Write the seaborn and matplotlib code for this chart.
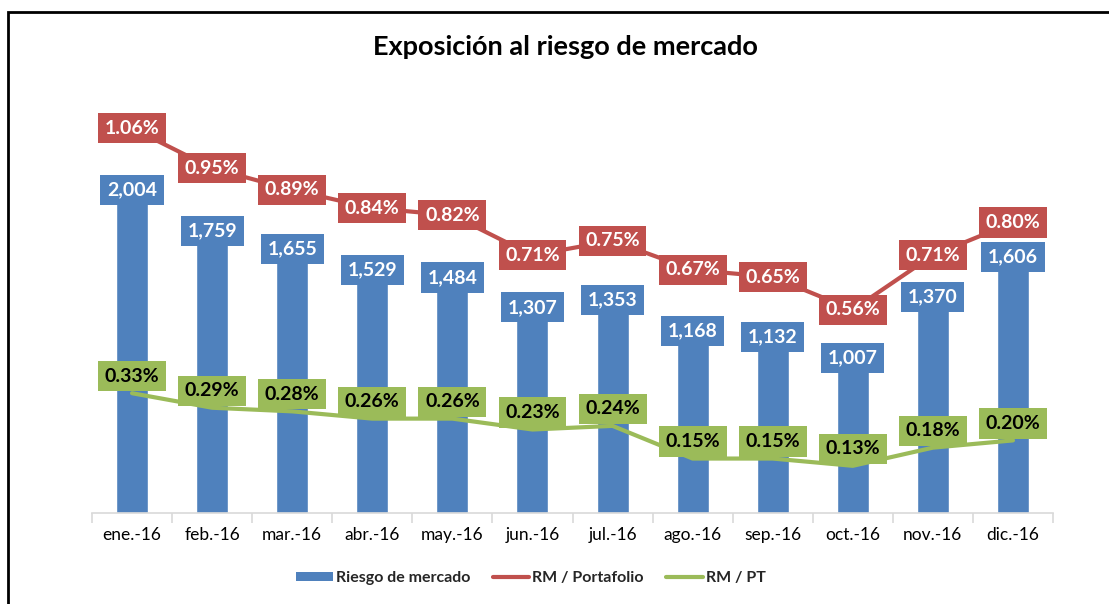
import matplotlib
matplotlib.use("Agg")
import matplotlib.pyplot as plt
import seaborn as sns
import pandas as pd
import numpy as np
from matplotlib.patches import Patch, Rectangle
from matplotlib.lines import Line2D

months = ["ene.-16", "feb.-16", "mar.-16", "abr.-16", "may.-16", "jun.-16",
          "jul.-16", "ago.-16", "sep.-16", "oct.-16", "nov.-16", "dic.-16"]
riesgo = [2004, 1759, 1655, 1529, 1484, 1307, 1353, 1168, 1132, 1007, 1370, 1606]
rm_portafolio = [1.06, 0.95, 0.89, 0.84, 0.82, 0.71, 0.75, 0.67, 0.65, 0.56, 0.71, 0.80]
rm_pt = [0.33, 0.29, 0.28, 0.26, 0.26, 0.23, 0.24, 0.15, 0.15, 0.13, 0.18, 0.20]

BLUE = "#4F81BD"
RED = "#C0504D"
GREEN = "#9BBB59"

sns.set_theme(style="white")
plt.rcParams["font.family"] = ["Lato", "DejaVu Sans"]

df = pd.DataFrame({"mes": months, "riesgo": riesgo,
                   "rmp": rm_portafolio, "rmpt": rm_pt, "idx": np.arange(len(months))})

fig = plt.figure(figsize=(11.09, 6.04), dpi=100)
ax = fig.add_axes([92/1109, 1-513/604, 961/1109, 433/604])

sns.barplot(data=df, x="mes", y="riesgo", color=BLUE, saturation=1, width=0.4, ax=ax)
ax.set_ylim(0, 433/0.1688)
ax.set_xlim(-0.5, len(months)-0.5)
ax.set_xlabel("")
ax.set_ylabel("")
ax.set_yticks([])
for s in ["top", "right", "left"]:
    ax.spines[s].set_visible(False)
ax.spines["bottom"].set_color("#D9D9D9")
ax.spines["bottom"].set_linewidth(1.2)
ax.tick_params(axis="x", which="major", length=0, labelsize=12.5, colors="black", pad=10)
ax.set_xticks(np.arange(-0.5, len(months)+0.5, 1), minor=True)
ax.tick_params(axis="x", which="minor", length=7, color="#D9D9D9", width=1.2, bottom=True)

LBL = 14
PAD = "square,pad=0.34"
for i, v in enumerate(riesgo):
    ax.annotate(f"{v:,}", (i, v), xytext=(0, -15), textcoords="offset pixels",
                ha="center", va="center", color="white", fontsize=LBL, fontweight="bold",
                bbox=dict(boxstyle=PAD, fc=BLUE, ec="none"), zorder=5)

ax2 = ax.twinx()
ax2.set_ylim(0, 433/363)
sns.lineplot(data=df, x="idx", y="rmp", color=RED, linewidth=3, ax=ax2, legend=False)
sns.lineplot(data=df, x="idx", y="rmpt", color=GREEN, linewidth=3, ax=ax2, legend=False)
ax2.set_xlim(-0.5, len(months)-0.5)
ax2.set_yticks([])
ax2.set_ylabel("")
ax2.set_xlabel("")
for s in ["top", "right", "left", "bottom"]:
    ax2.spines[s].set_visible(False)

for i, v in enumerate(rm_portafolio):
    ax2.annotate(f"{v:.2f}%", (i, v), xytext=(0, 0), textcoords="offset pixels",
                 ha="center", va="center", color="white", fontsize=LBL, fontweight="bold",
                 bbox=dict(boxstyle=PAD, fc=RED, ec="none"), zorder=6)
for i, v in enumerate(rm_pt):
    ax2.annotate(f"{v:.2f}%", (i, v), xytext=(0, 17), textcoords="offset pixels",
                 ha="center", va="center", color="black", fontsize=LBL, fontweight="bold",
                 bbox=dict(boxstyle=PAD, fc=GREEN, ec="none"), zorder=6)

fig.text(565/1109, 1-47/604, "Exposición al riesgo de mercado", ha="center", va="center",
         fontsize=19.5, fontweight="bold", color="black")

handles = [Patch(facecolor=BLUE, edgecolor="none"),
           Line2D([0], [0], color=RED, lw=3),
           Line2D([0], [0], color=GREEN, lw=3)]
labels = ["Riesgo de mercado", "RM / Portafolio", "RM / PT"]
fig.legend(handles, labels, loc="center", bbox_to_anchor=(531/1109, 1-578/604), ncol=3,
           frameon=False, prop={"weight": "bold", "size": 11.5}, handlelength=2.3,
           handleheight=0.5, columnspacing=1.4, handletextpad=0.2)

fig.patches.append(Rectangle((8/1109, -0.1), 1.2, 1-12/604+0.1, transform=fig.transFigure,
                             fill=False, ec="black", lw=2, zorder=10))

fig.savefig("out.png", dpi=100)
